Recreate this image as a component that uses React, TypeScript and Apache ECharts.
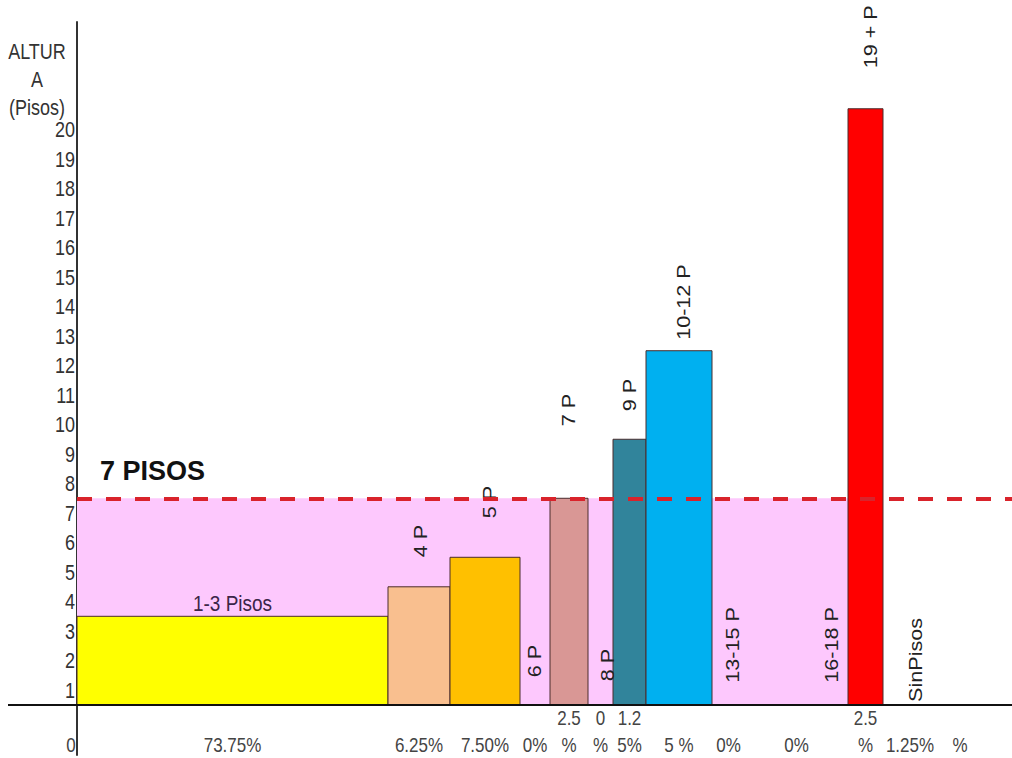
import React, { useEffect, useRef } from "react";
import * as echarts from "echarts";

// ---- data ----
const categories = ["1-3 Pisos", "4 P", "5 P", "6 P", "7 P", "8 P", "9 P", "10-12 P", "13-15 P", "16-18 P", "19 + P", "SinPisos"];
// building height (floors) of each column; 0 = no bar
const heights = [3.5, 4.5, 5.5, 0, 7.5, 0, 9.5, 12.5, 0, 0, 20.7, 0];
// share labels printed under each column ("\n" splits into two rows)
const shares = ["73.75%", "6.25%", "7.50%", "0%", "2.5\n%", "0\n%", "1.2\n5%", "5 %", "0%", "0%", "2.5\n%", "1.25%"];
// drawn column widths along the x axis (axis units)
const colWidths = [311, 62, 70, 30, 38, 25, 33, 66, 33, 103, 35, 54];
const yTickValues = [1, 2, 3, 4, 5, 6, 7, 8, 9, 10, 11, 12, 13, 14, 15, 16, 17, 18, 19, 20];
const threshold = 7.5; // "7 PISOS" limit
const baseLevel = 0.5; // floor level of the x axis line

// ---- styles / layout ----
const colors = ["#FFFF00", "#F9BF8F", "#FFC000", null, "#D99795", null, "#31849B", "#00B0F0", null, null, "#FF0000", null];
const nameY = [3.95, 6.05, 7.37, 1.98, 10.49, 1.85, 11.0, 14.15, 2.53, 2.53, 23.14, 2.02];
const nameDx = [0, 2, 5, 0, 0, 7, 0, 5, 4, 35, 5, 6];
const SANS = "'Liberation Sans', Arial, sans-serif";
const STRETCH = 1.2; // texts in the reference are vertically stretched

const starts: number[] = [];
colWidths.reduce((acc, w, i) => {
  starts[i] = acc;
  return acc + w;
}, 0);
const pinkEnd = starts[10];

export default function App() {
  const ref = useRef<HTMLDivElement>(null);
  useEffect(() => {
    const chart = echarts.init(ref.current!, null, { renderer: "svg" });
    const option: any = {
      animation: false,
      backgroundColor: "#ffffff",
      grid: { left: 8, right: 0, top: 22, bottom: 3, containLabel: false, outerBoundsMode: "none" },
      xAxis: {
        type: "value",
        min: -69,
        max: 935,
        axisLine: { show: false },
        axisTick: { show: false },
        axisLabel: { show: false },
        splitLine: { show: false },
      },
      yAxis: {
        type: "value",
        min: -1.2,
        max: 23.64,
        axisLine: { show: true, onZero: true, lineStyle: { color: "#333", width: 2 } },
        axisTick: { show: false },
        splitLine: { show: false },
        axisLabel: { show: false },
      },
      series: [
        {
          type: "line",
          data: [],
          z: 1,
          markArea: {
            silent: true,
            itemStyle: { color: "#FDC8FD" },
            data: [[{ coord: [0, baseLevel] }, { coord: [pinkEnd, threshold] }]],
          },
        },
        {
          type: "custom",
          z: 2,
          data: categories.map((_, i) => [i]),
          renderItem: (params: any, api: any) => {
            const i = params.dataIndex;
            const x0 = starts[i];
            const x1 = x0 + colWidths[i];
            const children: any[] = [];
            if (heights[i] > 0) {
              const p0 = api.coord([x0, heights[i]]);
              const p1 = api.coord([x1, baseLevel]);
              children.push({
                type: "rect",
                shape: { x: p0[0], y: p0[1], width: p1[0] - p0[0], height: p1[1] - p0[1] },
                style: { fill: colors[i], stroke: "#4a2c2c", lineWidth: 1 },
              });
            }
            const c = api.coord([(x0 + x1) / 2, nameY[i]]);
            children.push({
              type: "text",
              x: c[0] + nameDx[i],
              y: c[1],
              rotation: i === 0 ? 0 : Math.PI / 2,
              scaleX: i === 0 ? 1 : STRETCH,
              scaleY: i === 0 ? STRETCH : 1,
              z2: 5,
              style: {
                text: categories[i],
                fontFamily: SANS,
                fontSize: i === 0 ? 19 : 18,
                fill: i === 0 ? "#3b2548" : "#222",
                align: "center",
                verticalAlign: "middle",
              },
            });
            const b = api.coord([(x0 + x1) / 2, baseLevel]);
            const parts = shares[i].split("\n");
            const rows = parts.length === 2 ? [13, 40] : [40];
            parts.forEach((t, k) => {
              children.push({
                type: "text",
                x: b[0],
                y: b[1] + rows[k],
                scaleY: STRETCH,
                style: { text: t, fontFamily: SANS, fontSize: 17, fill: "#444", align: "center", verticalAlign: "middle" },
              });
            });
            return { type: "group", children };
          },
        },
        {
          type: "custom",
          z: 3,
          data: [[0]],
          renderItem: (params: any, api: any) => {
            const b0 = api.coord([-6, baseLevel]);
            const bEnd = api.coord([starts[11] + colWidths[11] + 23, baseLevel]);
            const t = api.coord([23, 8.42]);
            const top = api.coord([-40, 22.66]);
            const txt = (text: string, x: number, y: number, align = "center", size = 17, color = "#444") => ({
              type: "text",
              x,
              y,
              scaleY: STRETCH,
              style: { text, fontFamily: SANS, fontSize: size, fill: color, align, verticalAlign: "middle" },
            });
            const yLabels = yTickValues.map((v) => {
              const p = api.coord([0, v]);
              return txt(String(v), p[0] - 2, p[1], "right", 18, "#333");
            });
            return {
              type: "group",
              children: [
                ...yLabels,
                txt("0", b0[0], b0[1] + 40),
                txt("%", bEnd[0], bEnd[1] + 40),
                txt("ALTUR", top[0], top[1], "center", 18, "#333"),
                txt("A", top[0], top[1] + 28, "center", 18, "#333"),
                txt("(Pisos)", top[0], top[1] + 56, "center", 18, "#333"),
                { type: "text", x: t[0], y: t[1], style: { text: "7 PISOS", fontFamily: SANS, fontSize: 27, fontWeight: "bold", fill: "#111", align: "left", verticalAlign: "middle" } },
              ],
            };
          },
        },
        {
          type: "line",
          data: [],
          z: 10,
          markLine: {
            silent: true,
            symbol: "none",
            label: { show: false },
            data: [
              [
                { coord: [-69, baseLevel], lineStyle: { color: "#111", width: 2, type: "solid" } },
                { coord: [935, baseLevel] },
              ],
              [
                { coord: [0, threshold], lineStyle: { color: "#D9232B", width: 4, type: [15, 14] } },
                { coord: [935, threshold] },
              ],
            ],
          },
        },
      ],
    };
    chart.setOption(option);
    return () => chart.dispose();
  }, []);
  return <div ref={ref} style={{ position: "absolute", left: 0, top: 0, width: 1012, height: 758 }} />;
}
